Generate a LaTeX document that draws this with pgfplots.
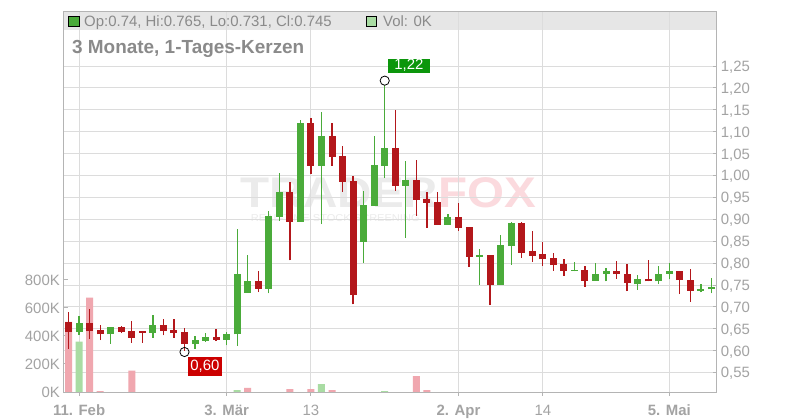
\documentclass[border=0pt]{standalone}
\usepackage{pgfplots}
\usepackage{pgfplotstable}
\pgfplotsset{compat=1.18}
\usepackage{fontspec}
\setmainfont{Liberation Sans}

\definecolor{cgreen}{HTML}{4AAB3A}
\definecolor{cred}{HTML}{B3171B}
\definecolor{vgreen}{HTML}{A9DCA3}
\definecolor{vred}{HTML}{F0A7AF}
\definecolor{gridc}{HTML}{DCDCDC}
\definecolor{axisc}{HTML}{B4B4B4}
\definecolor{tickc}{HTML}{A3A3A3}
\definecolor{headc}{HTML}{E6E6E6}
\definecolor{titlec}{HTML}{8A8A8A}
\definecolor{wmgray}{HTML}{EBEBEB}
\definecolor{wmpink}{HTML}{FBDADE}
\definecolor{boxgreen}{HTML}{0C960C}
\definecolor{boxred}{HTML}{CC0000}

% candles: x = trading day (0 = 11. Feb), o h l c
\pgfplotstableread{
x  o     h     l     c
0  0.643 0.679 0.636 0.664
3  0.637 0.655 0.616 0.653
7  0.641 0.681 0.630 0.659
11 0.615 0.634 0.605 0.625
12 0.623 0.640 0.620 0.631
14 0.625 0.642 0.612 0.638
15 0.637 0.877 0.611 0.775
16 0.732 0.818 0.732 0.759
18 0.742 0.920 0.731 0.908
19 0.906 1.005 0.897 0.962
21 0.894 1.127 0.894 1.119
23 1.022 1.146 0.889 1.090
27 0.849 0.965 0.801 0.933
28 0.931 1.090 0.931 1.024
29 1.022 1.220 0.994 1.063
31 0.977 1.032 0.858 0.990
35 0.888 0.912 0.888 0.905
38 0.815 0.832 0.750 0.818
40 0.750 0.864 0.750 0.841
41 0.839 0.894 0.796 0.892
47 0.782 0.802 0.781 0.785
49 0.760 0.800 0.760 0.775
50 0.776 0.788 0.758 0.782
53 0.752 0.773 0.739 0.764
55 0.758 0.793 0.752 0.775
56 0.776 0.800 0.763 0.781
59 0.737 0.752 0.733 0.740
60 0.740 0.765 0.731 0.745
}\greentab

\pgfplotstableread{
x  o     h     l     c
-1 0.665 0.688 0.605 0.643
1  0.664 0.695 0.627 0.646
2  0.647 0.659 0.624 0.637
4  0.654 0.656 0.640 0.643
5  0.644 0.667 0.618 0.630
6  0.645 0.645 0.618 0.641
8  0.659 0.672 0.635 0.646
9  0.647 0.672 0.630 0.641
10 0.643 0.652 0.600 0.615
13 0.631 0.650 0.622 0.625
17 0.759 0.782 0.734 0.742
20 0.962 0.985 0.806 0.894
22 1.121 1.132 1.003 1.022
24 1.090 1.121 1.022 1.043
25 1.045 1.067 0.963 0.986
26 0.987 0.999 0.706 0.728
30 1.063 1.150 0.965 0.977
32 0.990 1.035 0.908 0.945
33 0.946 0.963 0.881 0.938
34 0.940 0.962 0.888 0.888
36 0.905 0.938 0.874 0.881
37 0.882 0.882 0.792 0.815
39 0.818 0.818 0.704 0.750
42 0.892 0.894 0.812 0.824
43 0.827 0.873 0.803 0.817
44 0.820 0.849 0.794 0.809
45 0.812 0.823 0.783 0.796
46 0.798 0.809 0.771 0.783
48 0.784 0.793 0.746 0.760
51 0.781 0.805 0.764 0.775
52 0.775 0.798 0.736 0.754
54 0.764 0.807 0.758 0.758
57 0.781 0.783 0.729 0.761
58 0.762 0.787 0.712 0.737
}\redtab

\pgfplotsset{
  chartbox/.style={
    at={(63.3bp,28bp)}, anchor=south west, scale only axis,
    width=653.4bp, height=380.3bp,
    xmin=-1.5, xmax=60.5,
  },
  candle/.style 2 args={
    draw=none, mark=none,
    error bars/.cd, y dir=plus, y explicit, error mark=none,
    error bar style={draw=#1, line width=#2},
  },
}

\begin{document}
\begin{tikzpicture}
\fill[white] (0bp,0bp) rectangle (800bp,420bp);
\fill[headc] (63.3bp,390bp) rectangle (716.7bp,408.3bp);

% watermark (logo and its subtitle in one node)
\node[anchor=base west, inner sep=0pt, xscale=1.11,
  font=\fontsize{43}{43}\selectfont\bfseries] at (240bp,212bp)
  {\rlap{\hspace{9.6bp}\raisebox{-14bp}[0pt][0pt]{\fontsize{10}{10}\selectfont\mdseries\textcolor{wmgray}{REAL-TIME STOCK SCREENING}}}%
   \textcolor{wmgray}{TRADER}\textcolor{wmpink}{FOX}};

% price grid, right axis, dates
\begin{axis}[chartbox,
  ymin=0.5057, ymax=1.374,
  axis line style={draw=axisc, line width=1bp},
  xtick={0,14,22,36,44,56},
  xticklabels={\textbf{11. Feb},\textbf{3. Mär},13,\textbf{2. Apr},14,\textbf{5. Mai}},
  ytick={0.55,0.60,0.65,0.70,0.75,0.80,0.85,0.90,0.95,1.00,1.05,1.10,1.15,1.20,1.25},
  yticklabel={\pgfmathprintnumber[assume math mode=true,fixed,fixed zerofill,precision=2,use comma]{\tick}},
  xmajorgrids, ymajorgrids,
  major grid style={draw=gridc, line width=1bp},
  xtick pos=left, ytick pos=right,
  xtick align=outside, ytick align=inside,
  major tick length=4bp,
  tick style={draw=axisc, line width=1bp},
  ticklabel style={font=\fontsize{15}{15}\selectfont, text=tickc},
  xticklabel style={anchor=base, inner sep=0pt, yshift=-19.5bp},
  yticklabel style={anchor=base west, inner sep=0pt, xshift=4bp, yshift=-5.4bp},
]
\end{axis}

% volume
\begin{axis}[chartbox,
  ymin=0, ymax=2716,
  hide x axis,
  axis y line*=left,
  y axis line style={draw=axisc, line width=1bp},
  ytick={0,200,400,600,800},
  scaled y ticks=false,
  yticklabel={\pgfmathprintnumber[assume math mode=true]{\tick}K},
  ytick align=inside, major tick length=4.4bp,
  tick style={draw=axisc, line width=1bp},
  ticklabel style={font=\fontsize{15}{15}\selectfont, text=tickc},
  yticklabel style={anchor=base east, inner sep=0pt, xshift=-3.3bp, yshift=-5.4bp},
]
\addplot[ybar, bar width=7bp, bar shift=0pt, fill=vred, draw=none] table {
x  v
-1 500
1  674
2  7
5  152
16 29
20 21
22 21
24 14
32 114
33 14
};
\addplot[ybar, bar width=7bp, bar shift=0pt, fill=vgreen, draw=none] table {
x  v
0  359
15 14
23 57
29 7
};
\end{axis}

% candles
\begin{axis}[chartbox, ymin=0.5057, ymax=1.374, hide axis, clip=false]
\addplot[candle={cgreen}{1.3bp}]
  table[x=x, y=l, y error plus expr=\thisrow{h}-\thisrow{l}] {\greentab};
\addplot[candle={cgreen}{7bp}]
  table[x=x, y=o, y error plus expr=\thisrow{c}-\thisrow{o}] {\greentab};
\addplot[candle={cred}{1.3bp}]
  table[x=x, y=l, y error plus expr=\thisrow{h}-\thisrow{l}] {\redtab};
\addplot[candle={cred}{7bp}]
  table[x=x, y=c, y error plus expr=\thisrow{o}-\thisrow{c}] {\redtab};

\draw[black, line width=0.8bp, fill=white] ([yshift=-1.5bp]axis cs:29,1.22) circle[radius=4.6bp];
\node[fill=boxgreen, text=white, anchor=south west, inner xsep=6.4bp, inner ysep=0pt,
  text height=11bp, text depth=3bp, font=\fontsize{15}{15}\selectfont]
  at ([xshift=3bp, yshift=6.2bp]axis cs:29,1.22) {1,22};
\draw[black, line width=0.8bp] ([yshift=-1.3bp]axis cs:10,0.600) circle[radius=4.6bp];
\node[fill=boxred, text=white, anchor=north west, inner xsep=2.6bp, inner ysep=0pt,
  text height=13bp, text depth=5.4bp, font=\fontsize{15}{15}\selectfont]
  at ([xshift=3bp, yshift=-6.6bp]axis cs:10,0.600) {0,60};
\end{axis}

% header legend and title
\draw[black, line width=0.8bp, fill=cgreen] (68bp,393.3bp) rectangle (79bp,403.3bp);
\node[anchor=base west, inner sep=0pt, text=titlec, font=\fontsize{15}{15}\selectfont]
  at (84bp,393.3bp) {Op:0.74, Hi:0.765, Lo:0.731, Cl:0.745};
\draw[black, line width=0.8bp, fill=vgreen] (366.7bp,393.3bp) rectangle (376.7bp,403.3bp);
\node[anchor=base west, inner sep=0pt, text=titlec, font=\fontsize{15}{15}\selectfont]
  at (383bp,393.3bp) {Vol: 0K};
\node[anchor=base west, inner sep=0pt, text=titlec, font=\fontsize{19}{19}\selectfont\bfseries]
  at (72bp,366bp) {3 Monate, 1-Tages-Kerzen};
\end{tikzpicture}
\end{document}
